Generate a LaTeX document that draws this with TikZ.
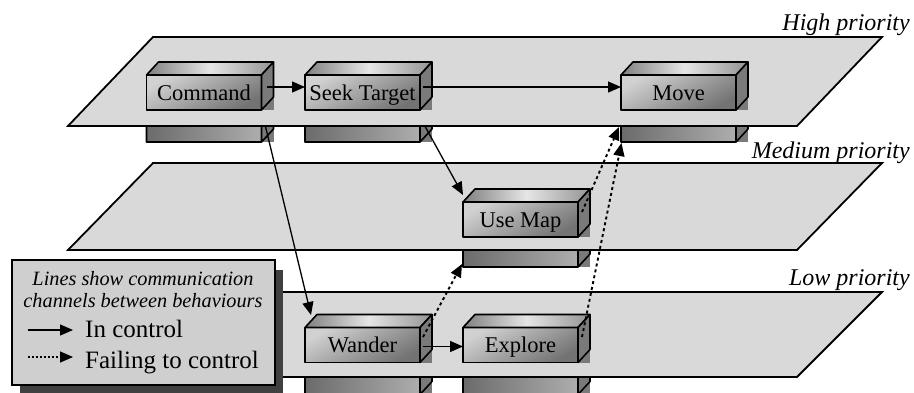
\documentclass[tikz,border=0pt]{standalone}
\usepackage{fontspec}
\setmainfont{Liberation Serif}
\usetikzlibrary{arrows.meta,calc}

\tikzset{
  plane/.style={fill=black!15, draw=black, line width=1.8pt, line join=miter},
  edge/.style={draw=black, line width=1.6pt, line join=round},
  front/.style={edge, inner sep=0pt, outer sep=0pt,
    minimum width=115pt, minimum height=35pt, text height=15pt, text depth=0pt,
    font=\fontsize{22.5}{26}\selectfont,
    top color=black!18, bottom color=black!55, shading angle=30},
  topface/.style={edge, left color=black!50, right color=black!42, middle color=black!10},
  sidefill/.style={fill=black!52},
  sideface/.style={edge, fill=black!52},
  lowfill/.style={left color=black!58, right color=black!32},
  ctl/.style={line width=1.3pt, -{Triangle[length=13pt,width=11pt]}},
  fail/.style={ctl, line width=1.9pt, dash pattern=on 3pt off 3pt},
  keyfail/.style={ctl, dash pattern=on 2pt off 2pt},
  prio/.style={inner sep=0pt, font=\fontsize{24}{28}\selectfont\itshape},
  keyhead/.style={inner sep=0pt, font=\fontsize{20.3}{24}\selectfont\itshape},
  keyentry/.style={inner sep=0pt, font=\fontsize{25}{29}\selectfont},
}

% top and side faces of a block whose front face is the node #1
\newcommand\blockfaces[1]{%
  \fill[sidefill] ($(#1.north east)+(0,-13)$) rectangle ($(#1.south east)+(12,0)$);
  \draw[topface] (#1.north west) -- ($(#1.north west)+(12,-13)$)
    -- ($(#1.north east)+(12,-13)$) -- (#1.north east) -- cycle;
  \draw[sideface] (#1.north east) -- ($(#1.north east)+(12,-13)$)
    -- ($(#1.south east)+(12,-13)$) -- (#1.south east) -- cycle;
}
% part of a block showing below its plane: #1 centre coordinate, #2 drop below the front face
\newcommand\underpart[2]{%
  \fill[lowfill] ($(#1)+(-57.5,17.5)$) rectangle ($(#1)+(57.5,{17.5+#2})$);
  \fill[sidefill] ($(#1)+(57.5,17.5)$) rectangle ($(#1)+(69.5,{17.5+#2})$);
  \draw[edge] ($(#1)+(-57.5,17.5)$) -- ($(#1)+(-57.5,{17.5+#2})$)
    -- ($(#1)+(57.5,{17.5+#2})$) -- ($(#1)+(57.5,17.5)$)
    ($(#1)+(57.5,{17.5+#2})$) -- ($(#1)+(69.5,{4.5+#2})$) -- ($(#1)+(69.5,17.5)$);
}

\begin{document}
\begin{tikzpicture}[x=1pt,y=-1pt]
\useasboundingbox (0,0) rectangle (914,392);
\clip (0,0) rectangle (914,392);

% block centres
\coordinate (cmdC) at (204,92.5);
\coordinate (seekC) at (362.5,92.5);
\coordinate (moveC) at (678.5,92.5);
\coordinate (mapC) at (520.5,219.5);
\coordinate (wanderC) at (362.5,345);
\coordinate (exploreC) at (520.5,345);

% ---- low priority level
\underpart{wanderC}{32}
\underpart{exploreC}{32}
\path[plane] (153,292) -- (882,292) -- (797,377) -- (68,377) -- cycle;
\node[front] (wander) at (wanderC) {Wander};
\blockfaces{wander}
\node[front] (explore) at (exploreC) {Explore};
\blockfaces{explore}

% ---- medium priority level
\underpart{mapC}{30}
\path[plane] (153,163) -- (882,163) -- (797,250) -- (68,250) -- cycle;
\node[front] (usemap) at (mapC) {Use Map};
\blockfaces{usemap}

% ---- high priority level, lower parts
\underpart{cmdC}{32}
\underpart{seekC}{32}
\underpart{moveC}{32}

% connectors between levels
\draw[ctl] (cmdC |- 0,110) ++(57.5,0) coordinate (cmdOut) -- ($(wanderC)+(-51.5,-30)$) coordinate (wanderIn);
\path (seekC) ++(53.5,17.5) coordinate (seekOut);
\draw[ctl] (seekOut) -- ($(usemap.north west)+(0,-7)$);
\draw[fail] ($(usemap.east)+(4,-7.5)$) -- ($(moveC)+(-59.5,34.5)$);
\draw[fail] ($(explore.east)+(4,-8)$) -- ($(moveC)+(-57,50.5)$);
\draw[fail] ($(wander.east)+(3,-8)$) -- ($(usemap.south west)+(-1,27)$);
\draw[ctl] ($(wander.east)+(3,1.5)$) -- ($(explore.west)+(0,1.5)$);

% ---- high priority level
\path[plane] (153,37) -- (882,37) -- (797,126) -- (68,126) -- cycle;
\node[front] (cmd) at (cmdC) {Command};
\blockfaces{cmd}
\node[front] (seek) at (seekC) {Seek Target};
\blockfaces{seek}
\node[front] (move) at (moveC) {Move};
\blockfaces{move}
\draw[ctl] ($(cmd.east)+(5,-5.5)$) -- ($(seek.west)+(0,-5.5)$);
\draw[ctl] ($(seek.east)+(3,-5.5)$) -- ($(move.west)+(0,-5.5)$);

% level labels
\node[prio, anchor=base east] (high) at (910,30) {High priority};
\node[prio, anchor=base east] (medium) at (910,158) {Medium priority};
\node[prio, anchor=base east] (low) at (910,285) {Low priority};

% ---- key
\fill[black!75] (20,270) rectangle (283,394);
\node[draw, line width=1.6pt, fill=black!19, inner sep=0pt, outer sep=0pt,
  minimum width=263pt, minimum height=125pt] (key) at (143.5,322.5) {};
\node[keyhead, anchor=base] (keyA) at (143,285) {Lines show communication};
\node[keyhead, anchor=base] (keyB) at (143,307) {channels between behaviours};
\node[keyentry, anchor=base west] (keyC) at (85,337) {In control};
\node[keyentry, anchor=base west] (keyD) at (85,368) {Failing to control};
\draw[ctl] ($(keyC.base west)+(-57,-7)$) -- ($(keyC.base west)+(-12,-7)$);
\draw[keyfail] ($(keyD.base west)+(-57,-11)$) -- ($(keyD.base west)+(-12,-11)$);
\end{tikzpicture}
\end{document}
